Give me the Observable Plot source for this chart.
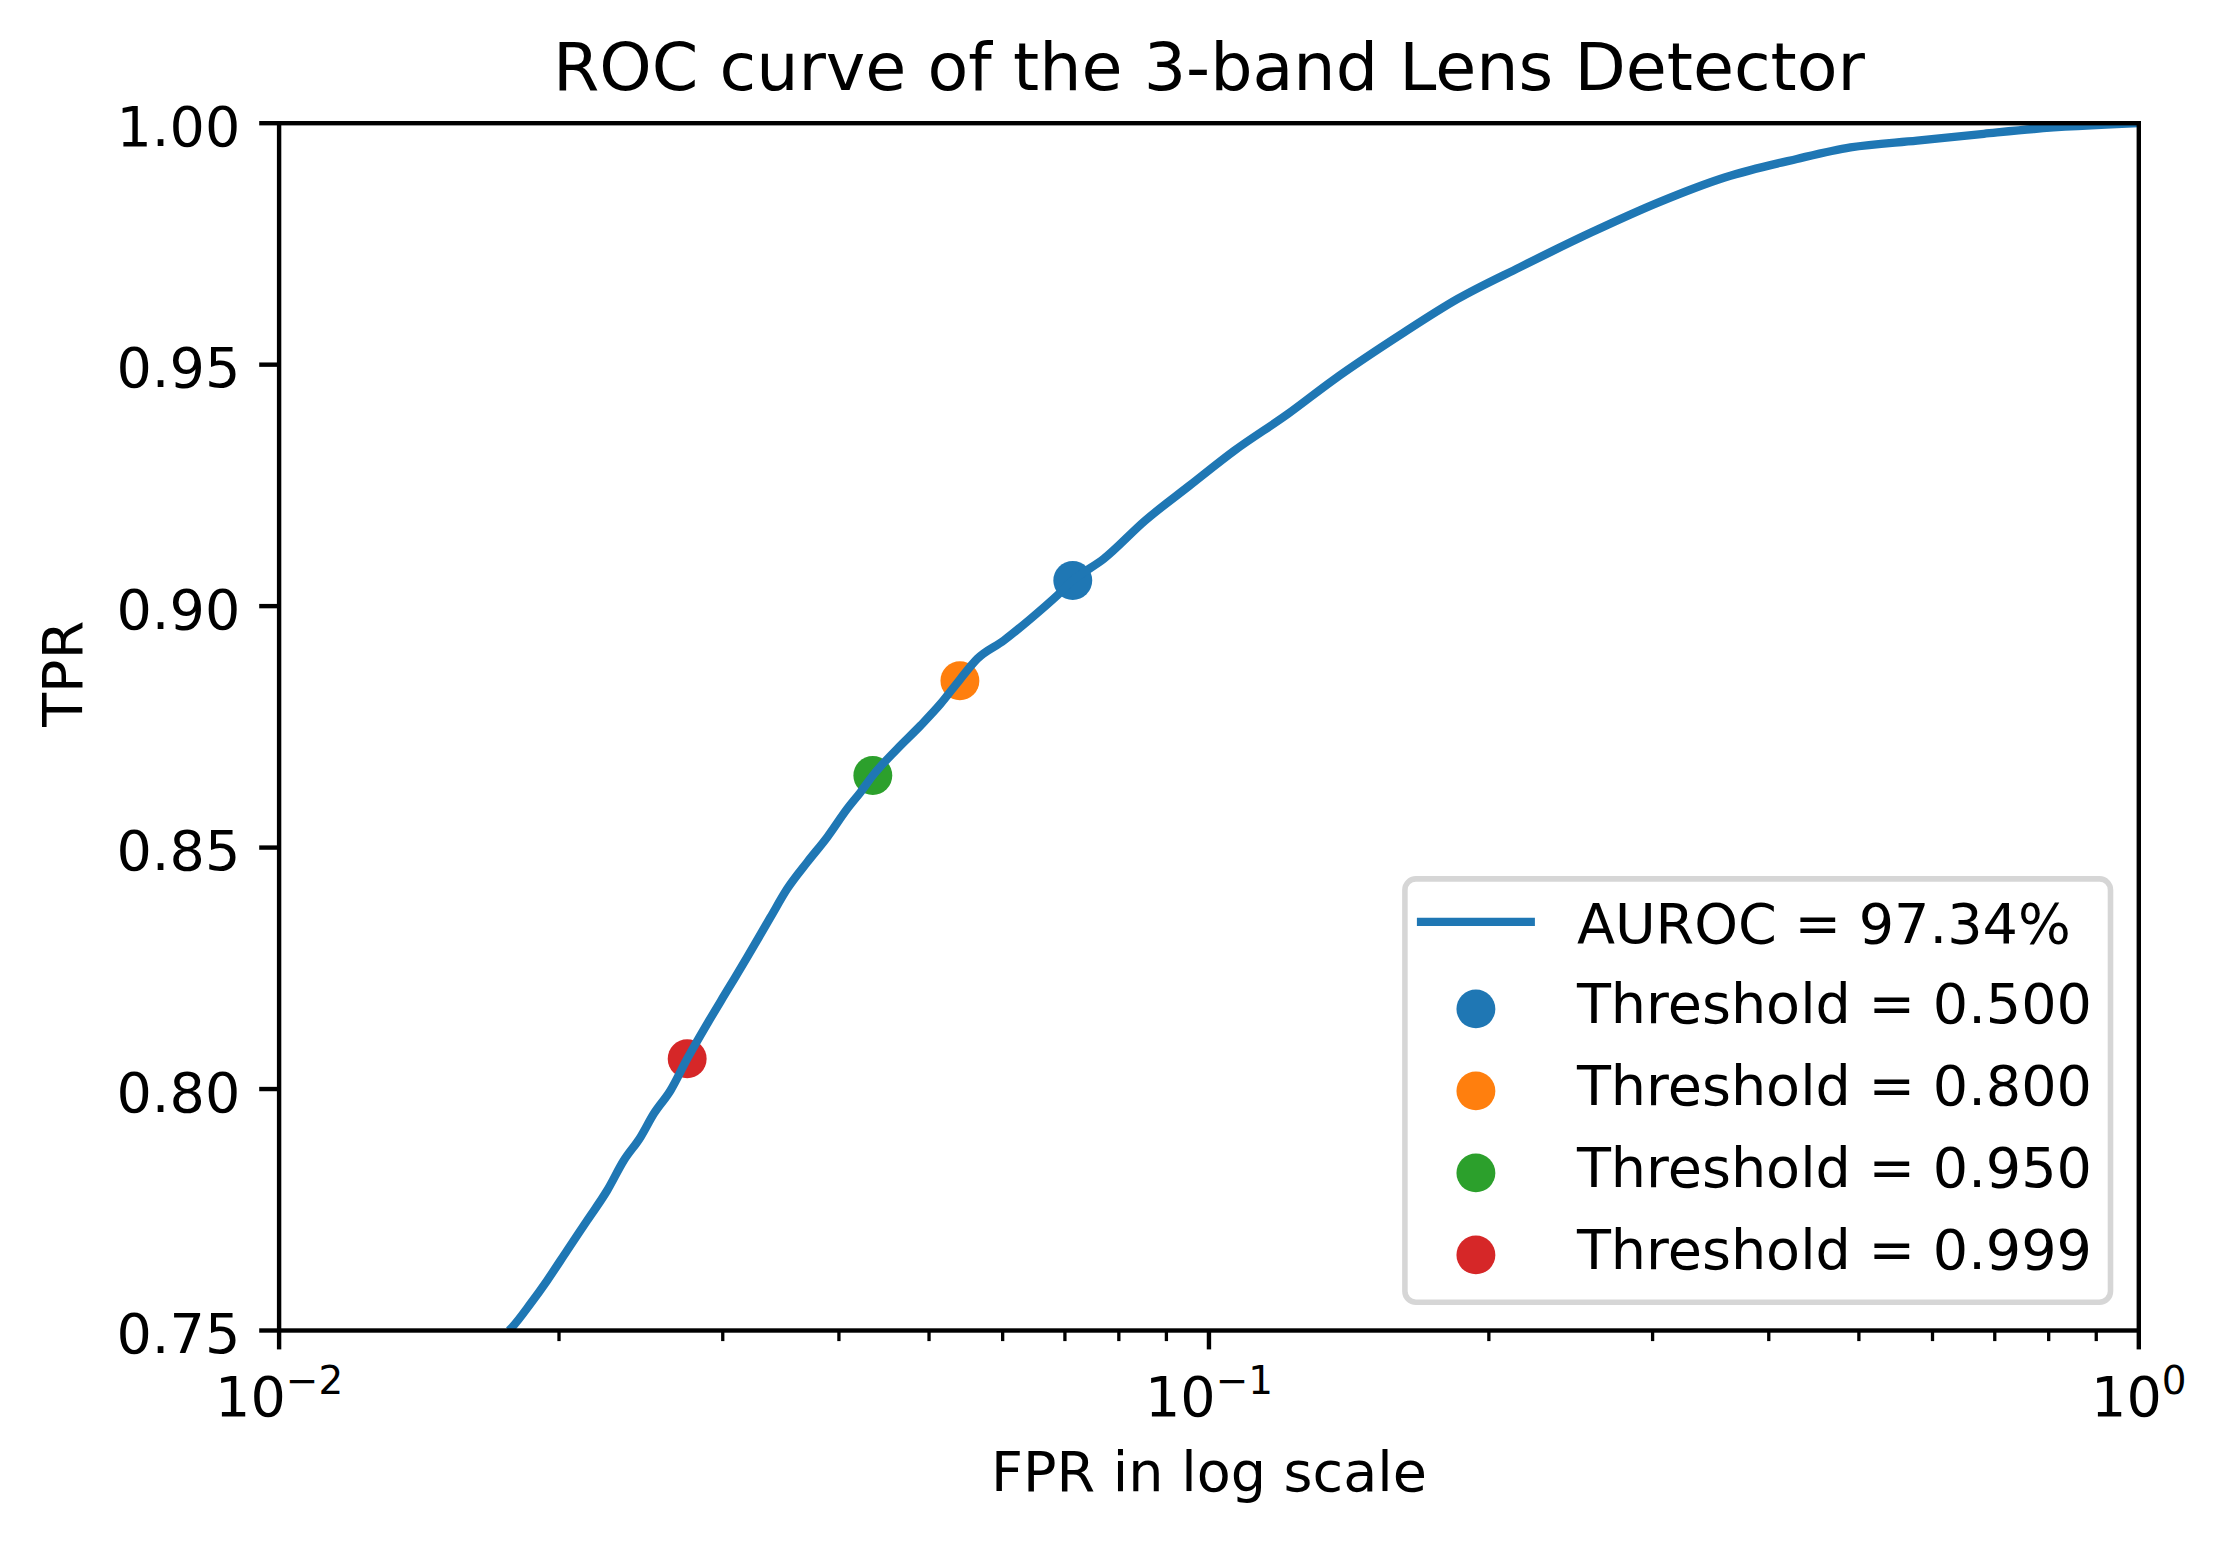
<!DOCTYPE html>
<html>
<head>
<meta charset="utf-8">
<script src="https://cdn.jsdelivr.net/npm/d3@7"></script>
<script src="https://cdn.jsdelivr.net/npm/@observablehq/plot@0.6"></script>
<style>
  html, body { margin: 0; padding: 0; background: white; }
  #wrap { position: relative; width: 2226px; height: 1542px; font-family: "DejaVu Sans", sans-serif; }
  #wrap svg { display: block; }
</style>
</head>
<body>
<div id="wrap"></div>
<script>
// ---- data ----
const fpr = [0.01767, 0.017808, 0.018633, 0.019420, 0.020406, 0.021443, 0.022532, 0.023478, 0.024469, 0.025288,
             0.026357, 0.027470, 0.028868, 0.030333, 0.031873, 0.033766, 0.035192, 0.036979, 0.038857, 0.040831,
             0.042197, 0.043503, 0.046220, 0.048965, 0.051452, 0.053971, 0.056347, 0.060171, 0.064283, 0.068670,
             0.071376, 0.077082, 0.08538, 0.09537, 0.1065, 0.1216, 0.1358, 0.1622, 0.1851, 0.2161,
             0.2579, 0.3045, 0.3593, 0.4288, 0.4897, 0.5777, 0.6813, 0.7711, 1.0];
const tpr = [0.7500, 0.75068, 0.75553, 0.76035, 0.76657, 0.77278, 0.77899, 0.7852, 0.79003, 0.79487,
             0.7997, 0.80626, 0.81351, 0.82041, 0.8273, 0.83558, 0.84146, 0.84697, 0.85215, 0.85803,
             0.86147, 0.86493, 0.87045, 0.87528, 0.87977, 0.8848, 0.88909, 0.89288, 0.89737, 0.9022,
             0.90531, 0.9098, 0.9177, 0.9250, 0.9322, 0.9398, 0.9467, 0.9567, 0.9636, 0.9702,
             0.9774, 0.9836, 0.9888, 0.9926, 0.9950, 0.9964, 0.9978, 0.9988, 1.0];

const thresholds = ["0.500", "0.800", "0.950", "0.999"];
const thrFpr = [0.071376, 0.053971, 0.043503, 0.027470];
const thrTpr = [0.90531, 0.88454, 0.86493, 0.80626];
const thrColors = ["#1f77b4", "#ff7f0e", "#2ca02c", "#d62728"];

const aurocLabel = "AUROC = 97.34%";
const titleText = "ROC curve of the 3-band Lens Detector";
const xLabel = "FPR in log scale";
const yLabel = "TPR";

const yTicks = [0.75, 0.80, 0.85, 0.90, 0.95, 1.00];
const xMajorTicks = [0.01, 0.1, 1];
const xMajorExp = ["\u22122", "\u22121", "0"];
const xMinorTicks = [0.02, 0.03, 0.04, 0.05, 0.06, 0.07, 0.08, 0.09,
                     0.2, 0.3, 0.4, 0.5, 0.6, 0.7, 0.8, 0.9];

// ---- build tables ----
const curve = fpr.map((f, i) => ({fpr: f, tpr: tpr[i]}));
const thr = thresholds.map((t, i) => ({label: t, fpr: thrFpr[i], tpr: thrTpr[i], color: thrColors[i]}));

const W = 2226, H = 1542;
const mL = 278.6, mR = 87.7, mT = 122.7, mB = 212;
const FS = 55.6;       // 10pt @ 400dpi
const TITLE_FS = 66.7; // 12pt @ 400dpi
const SPINE = 4.4, MINOR_W = 3.3, MAJOR_LEN = 19.4, MINOR_LEN = 11.1;
const LINE_W = 8.33, DOT_R = 19.45;

const chart = Plot.plot({
  width: W, height: H,
  marginLeft: mL, marginRight: mR, marginTop: mT, marginBottom: mB,
  style: {fontFamily: "DejaVu Sans", fontSize: FS + "px", background: "white", color: "black", overflow: "visible"},
  x: {type: "log", domain: [0.01, 1]},
  y: {domain: [0.75, 1]},
  marks: [
    // threshold dots (drawn under the line, as in the reference)
    Plot.dot(thr, {x: "fpr", y: "tpr", r: DOT_R, fill: "color", stroke: null, clip: true}),
    // ROC curve
    Plot.line(curve, {x: "fpr", y: "tpr", stroke: "#1f77b4", strokeWidth: LINE_W, curve: "monotone-x",
                      strokeLinejoin: "round", strokeLinecap: "butt", clip: true}),
    // axes ticks
    Plot.axisX(xMinorTicks, {tickSize: MINOR_LEN, strokeWidth: MINOR_W, tickFormat: () => "", label: null}),
    Plot.axisX(xMajorTicks, {tickSize: MAJOR_LEN, strokeWidth: SPINE, tickFormat: () => "", label: null}),
    Plot.axisY(yTicks, {tickSize: MAJOR_LEN, strokeWidth: SPINE, tickFormat: () => "", label: null}),
    // tick labels
    Plot.text(yTicks, {y: d => d, text: d => d.toFixed(2), frameAnchor: "left", textAnchor: "end",
                       lineAnchor: "bottom", dx: -2 * MAJOR_LEN, dy: 22.5, fontSize: FS, fill: "black"}),
    Plot.text(xMajorTicks, {x: d => d, text: (d, i) => "10^" + xMajorExp[i], frameAnchor: "bottom",
                            textAnchor: "middle", lineAnchor: "bottom", dy: 85, fontSize: FS,
                            fill: "black"}),
    // frame (spines)
    Plot.frame({stroke: "black", strokeWidth: SPINE}),
    // title and axis labels
    Plot.text([titleText], {text: d => d, frameAnchor: "top", lineAnchor: "bottom", dy: -33.4,
                            fontSize: TITLE_FS, fill: "black"}),
    Plot.text([xLabel], {text: d => d, frameAnchor: "bottom", lineAnchor: "bottom", dy: 160,
                         fontSize: FS, fill: "black"}),
    Plot.text([yLabel], {text: d => d, frameAnchor: "left", lineAnchor: "bottom", rotate: -90,
                         dx: 81.7 - mL, dy: 0, fontSize: FS, fill: "black"})
  ]
});

// turn "10^-2" into 10 with a real superscript
d3.select(chart).selectAll("text").each(function () {
  const t = this.textContent;
  const k = t.indexOf("^");
  if (k < 0) return;
  const base = t.slice(0, k), sup = t.slice(k + 1);
  const el = d3.select(this);
  el.text(base);
  el.append("tspan").attr("dy", -21.6).attr("font-size", (FS * 0.7) + "px").text(sup);
});

const wrap = document.getElementById("wrap");
wrap.appendChild(chart);

// ---- legend (overlay, lower right inside the axes) ----
const leg = d3.create("svg")
  .attr("width", W).attr("height", H)
  .style("position", "absolute").style("left", "0px").style("top", "0px")
  .style("pointer-events", "none")
  .attr("font-family", "DejaVu Sans").attr("font-size", FS);

const frameRight = W - mR, frameBottom = H - mB;
const pad = 0.5 * FS;
const boxW = 705.6, boxH = 423.3;
const bx = frameRight - pad - boxW, by = frameBottom - pad - boxH;

leg.append("rect")
  .attr("x", bx).attr("y", by).attr("width", boxW).attr("height", boxH)
  .attr("rx", 11).attr("ry", 11)
  .attr("fill", "white").attr("fill-opacity", 0.8)
  .attr("stroke", "#cccccc").attr("stroke-opacity", 0.8).attr("stroke-width", 5.56);

const handleX0 = bx + 12, handleX1 = bx + 130, handleCx = bx + 71;
const textX = bx + 172;
const row0 = by + 43;
leg.append("line")
  .attr("x1", handleX0).attr("x2", handleX1).attr("y1", row0).attr("y2", row0)
  .attr("stroke", "#1f77b4").attr("stroke-width", LINE_W);
leg.append("text").attr("x", textX).attr("y", row0 + 20.7).attr("fill", "black").text(aurocLabel);

thr.forEach((d, i) => {
  const cy = by + 130 + i * 82;
  leg.append("circle").attr("cx", handleCx).attr("cy", cy).attr("r", DOT_R).attr("fill", d.color);
  leg.append("text").attr("x", textX).attr("y", cy + 14.4).attr("fill", "black")
     .text("Threshold = " + d.label);
});

wrap.appendChild(leg.node());
</script>
</body>
</html>
